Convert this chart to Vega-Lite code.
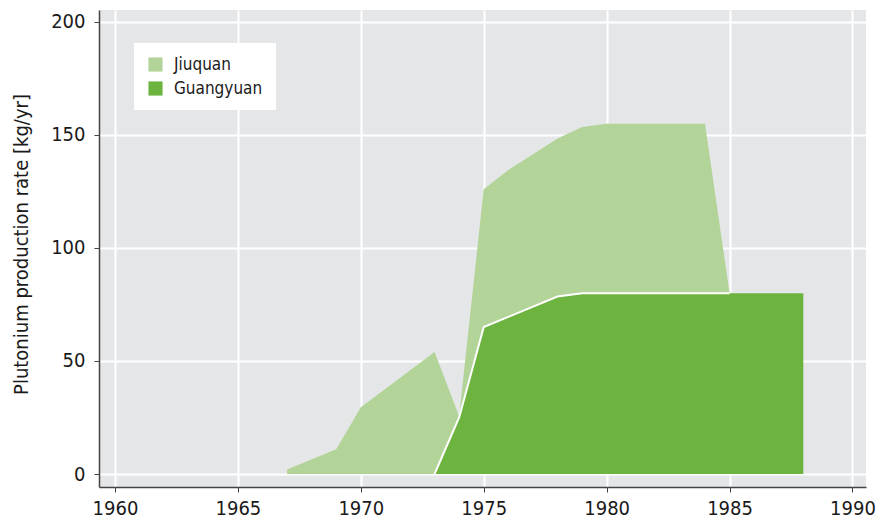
{
  "$schema": "https://vega.github.io/schema/vega-lite/v6.json",
  "width": 767,
  "height": 477,
  "autosize": "none",
  "padding": {"left": 99, "top": 10, "right": 10, "bottom": 34},
  "background": "white",
  "config": {
    "font": "DejaVu Sans Condensed, sans-serif",
    "view": {"fill": "#E5E6E8", "stroke": null},
    "axis": {
      "gridColor": "white",
      "gridWidth": 2,
      "domainColor": "#444444",
      "domainWidth": 1.5,
      "tickColor": "#444444",
      "tickSize": 5,
      "labelFontSize": 20,
      "labelColor": "#1a1a1a",
      "titleFontSize": 20,
      "titleColor": "#1a1a1a",
      "titleFontWeight": "normal"
    }
  },
  "data": {
    "values": [
      {"year": 1967, "site": "Jiuquan", "rate": 2},
      {"year": 1969, "site": "Jiuquan", "rate": 11},
      {"year": 1970, "site": "Jiuquan", "rate": 29.5},
      {"year": 1973, "site": "Jiuquan", "rate": 54},
      {"year": 1974, "site": "Jiuquan", "rate": 0.5},
      {"year": 1975, "site": "Jiuquan", "rate": 61},
      {"year": 1976, "site": "Jiuquan", "rate": 65},
      {"year": 1978, "site": "Jiuquan", "rate": 70},
      {"year": 1979, "site": "Jiuquan", "rate": 73.5},
      {"year": 1980, "site": "Jiuquan", "rate": 75},
      {"year": 1984, "site": "Jiuquan", "rate": 75},
      {"year": 1985, "site": "Jiuquan", "rate": 0},
      {"year": 1967, "site": "Guangyuan", "rate": 0},
      {"year": 1969, "site": "Guangyuan", "rate": 0},
      {"year": 1970, "site": "Guangyuan", "rate": 0},
      {"year": 1973, "site": "Guangyuan", "rate": 0},
      {"year": 1974, "site": "Guangyuan", "rate": 25},
      {"year": 1975, "site": "Guangyuan", "rate": 65},
      {"year": 1976, "site": "Guangyuan", "rate": 69.5},
      {"year": 1978, "site": "Guangyuan", "rate": 78.5},
      {"year": 1979, "site": "Guangyuan", "rate": 80},
      {"year": 1980, "site": "Guangyuan", "rate": 80},
      {"year": 1984, "site": "Guangyuan", "rate": 80},
      {"year": 1985, "site": "Guangyuan", "rate": 80},
      {"year": 1988, "site": "Guangyuan", "rate": 80}
    ]
  },
  "layer": [
    {
      "mark": {"type": "area", "opacity": 1},
      "encoding": {
        "x": {
          "field": "year", "type": "quantitative",
          "scale": {"domain": [1959.35, 1990.55], "nice": false, "zero": false},
          "axis": {"values": [1960, 1965, 1970, 1975, 1980, 1985, 1990], "format": "d", "title": null, "labelPadding": 6}
        },
        "y": {
          "field": "rate", "type": "quantitative", "stack": "zero",
          "scale": {"domain": [-5.75, 205.3], "nice": false, "zero": false},
          "axis": {"values": [0, 50, 100, 150, 200], "title": "Plutonium production rate [kg/yr]", "labelPadding": 9, "titlePadding": 19, "titleY": 234}
        },
        "color": {
          "field": "site", "type": "nominal",
          "scale": {"domain": ["Jiuquan", "Guangyuan"], "range": ["#B3D498", "#6DB33F"]},
          "legend": {
            "title": null,
            "orient": "none",
            "legendX": 35,
            "legendY": 33,
            "fillColor": "white",
            "padding": 13,
            "symbolType": "square",
            "symbolSize": 200,
            "symbolStrokeWidth": 0,
            "symbolOpacity": 1,
            "labelFontSize": 17,
            "labelColor": "#1a1a1a",
            "rowPadding": 6,
            "labelOffset": 10
          }
        },
        "order": {"field": "site", "sort": "ascending"}
      }
    },
    {
      "transform": [{"filter": "datum.site === 'Guangyuan' && datum.year >= 1973 && datum.year <= 1985"}],
      "mark": {"type": "line", "stroke": "white", "strokeWidth": 2},
      "encoding": {
        "x": {"field": "year", "type": "quantitative"},
        "y": {"field": "rate", "type": "quantitative"}
      }
    }
  ]
}
